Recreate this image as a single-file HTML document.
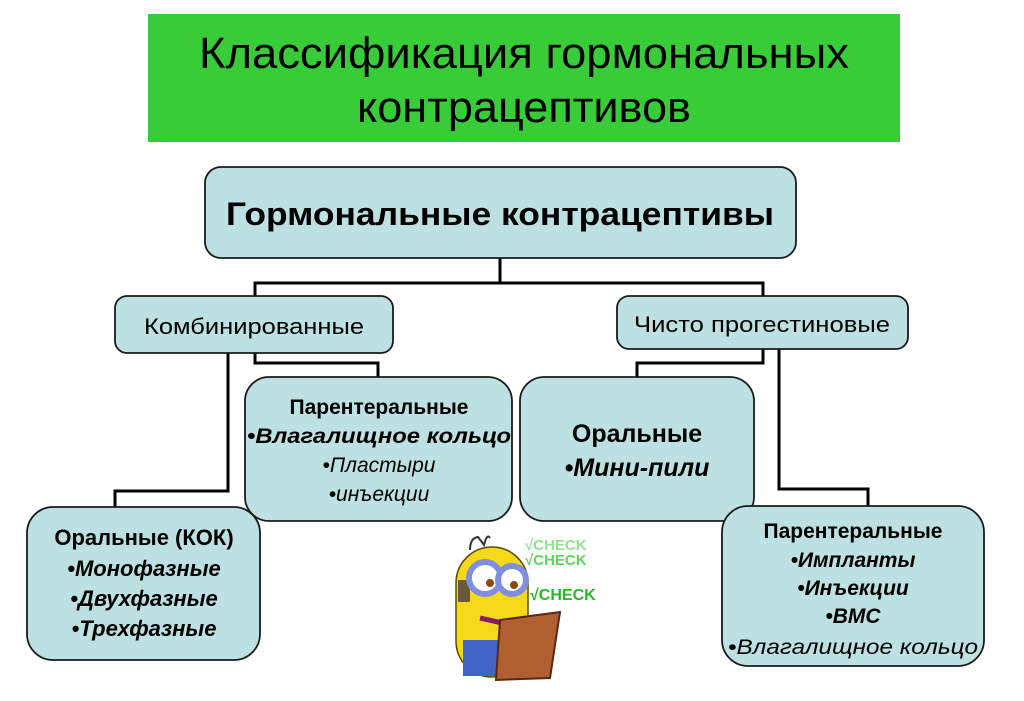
<!DOCTYPE html>
<html><head><meta charset="utf-8"><style>
html,body{margin:0;padding:0;background:#fff;width:1024px;height:701px;overflow:hidden}
svg{display:block}
text{font-family:"Liberation Sans","DejaVu Sans",sans-serif;fill:#000}
</style></head><body>
<svg width="1024" height="701" viewBox="0 0 1024 701" xmlns="http://www.w3.org/2000/svg">
<rect x="148" y="14" width="752" height="128" fill="#38cc38"/>
<text x="524" y="68" font-size="44" text-anchor="middle" textLength="650" lengthAdjust="spacingAndGlyphs">Классификация гормональных</text>
<text x="524" y="122" font-size="44" text-anchor="middle" textLength="334" lengthAdjust="spacingAndGlyphs">контрацептивов</text>

<g fill="none" stroke="#000" stroke-width="3">
<polyline points="500,258 500,283"/>
<polyline points="255,297 255,283 763,283 763,297"/>
<polyline points="255,353 255,363 378,363 378,377"/>
<polyline points="228,353 228,491 115,491 115,507"/>
<polyline points="763,348 763,363 637,363 637,377"/>
<polyline points="779,348 779,489 868,489 868,506"/>
</g>

<g fill="#bde0e2" stroke="#1a1a1a" stroke-width="1.8">
<rect x="205" y="167" width="591" height="91" rx="16"/>
<rect x="115" y="296" width="278" height="57" rx="12"/>
<rect x="617" y="296" width="291" height="53" rx="12"/>
<rect x="245" y="377" width="267" height="144" rx="24"/>
<rect x="520" y="377" width="234" height="144" rx="24"/>
<rect x="27" y="507" width="233" height="153" rx="26"/>
<rect x="722" y="506" width="262" height="160" rx="26"/>
</g>

<text x="500" y="225" font-size="32" font-weight="bold" text-anchor="middle" textLength="548" lengthAdjust="spacingAndGlyphs">Гормональные контрацептивы</text>
<text x="254" y="334" font-size="22" text-anchor="middle" textLength="220" lengthAdjust="spacingAndGlyphs">Комбинированные</text>
<text x="762" y="332" font-size="22" text-anchor="middle" textLength="256" lengthAdjust="spacingAndGlyphs">Чисто прогестиновые</text>

<g font-size="21" text-anchor="middle">
<text x="379" y="414" font-weight="bold">Парентеральные</text>
<text x="379" y="443" font-weight="bold" font-style="italic" textLength="264" lengthAdjust="spacingAndGlyphs">•Влагалищное кольцо</text>
<text x="379" y="472" font-style="italic">•Пластыри</text>
<text x="379" y="501" font-style="italic">•инъекции</text>

<text x="637" y="442" font-size="25" font-weight="bold">Оральные</text>
<text x="637" y="476" font-size="25" font-weight="bold" font-style="italic">•Мини-пили</text>

<text x="144" y="545" font-size="22" font-weight="bold">Оральные (КОК)</text>
<text x="144" y="576" font-size="22" font-weight="bold" font-style="italic">•Монофазные</text>
<text x="144" y="606" font-size="22" font-weight="bold" font-style="italic">•Двухфазные</text>
<text x="144" y="636" font-size="22" font-weight="bold" font-style="italic">•Трехфазные</text>

<text x="853" y="538" font-weight="bold">Парентеральные</text>
<text x="853" y="567" font-weight="bold" font-style="italic">•Импланты</text>
<text x="853" y="595" font-weight="bold" font-style="italic">•Инъекции</text>
<text x="853" y="623" font-weight="bold" font-style="italic">•ВМС</text>
<text x="853" y="654" font-style="italic" textLength="250" lengthAdjust="spacingAndGlyphs">•Влагалищное кольцо</text>
</g>

<!-- minion -->
<g>
<path d="M470,550 Q470,538 478,537 L484,545 Q487,533 490,538" fill="none" stroke="#333" stroke-width="2"/>
<rect x="456" y="547" width="72" height="130" rx="36" fill="#f5d817" stroke="#5a4a00" stroke-width="1.5"/>
<rect x="458" y="580" width="12" height="22" fill="#6a5a3a"/>
<rect x="463" y="640" width="60" height="36" fill="#3f63c7"/>
<circle cx="485" cy="578" r="16" fill="#fff" stroke="#7f8ee0" stroke-width="6"/>
<circle cx="512" cy="580" r="14" fill="#fff" stroke="#7f8ee0" stroke-width="6"/>
<circle cx="490" cy="583" r="4" fill="#8a4a10"/>
<circle cx="514" cy="585" r="4" fill="#8a4a10"/>
<path d="M480,618 L524,628" stroke="#8a1a6a" stroke-width="5"/>
<path d="M500,620 L560,612 L550,678 L496,680 Z" fill="#b05f30" stroke="#5a2a10" stroke-width="2"/>
<text x="525" y="550" font-size="15" font-weight="bold" style="fill:#8fe38f">√CHECK</text>
<text x="525" y="565" font-size="15" font-weight="bold" style="fill:#5cd65c">√CHECK</text>
<text x="530" y="600" font-size="16" font-weight="bold" style="fill:#22bb22">√CHECK</text>
</g>
</svg>
</body></html>
